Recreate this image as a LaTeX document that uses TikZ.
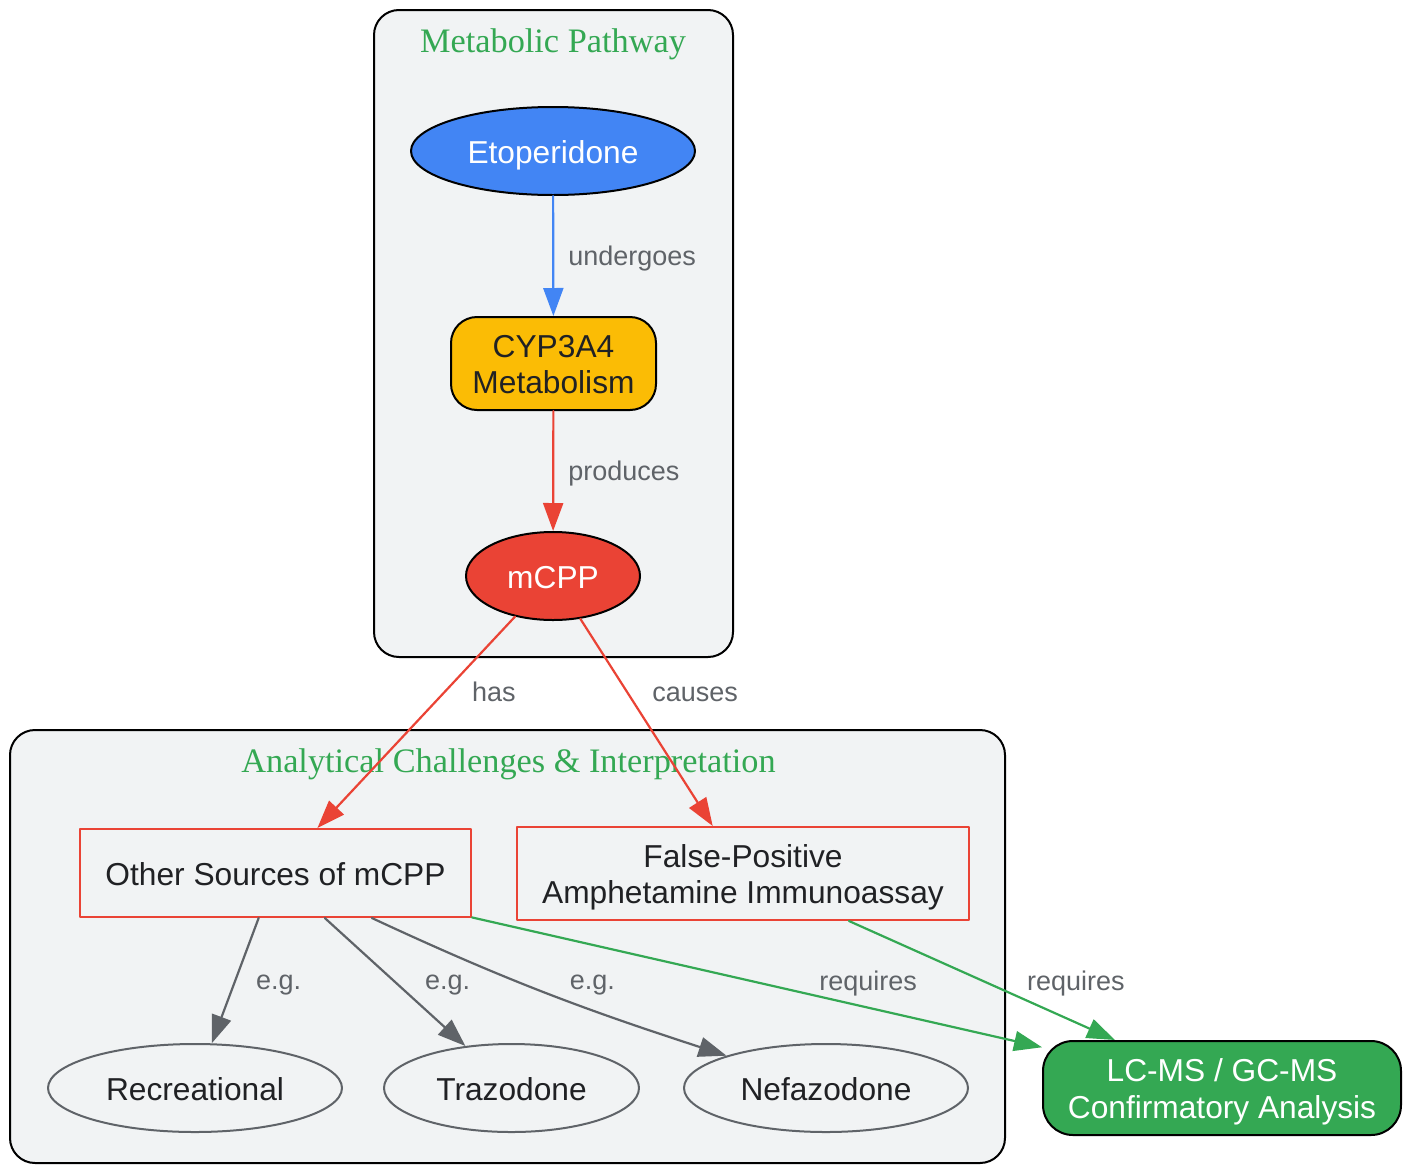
\documentclass[tikz,border=0pt]{standalone}
\usepackage{fontspec}
\setmainfont{Liberation Sans}
\newfontfamily\clusterfont{Liberation Serif}
\usetikzlibrary{arrows.meta,shapes.geometric}
\definecolor{gblue}{HTML}{4285F4}
\definecolor{gyellow}{HTML}{FBBC05}
\definecolor{gred}{HTML}{EA4335}
\definecolor{ggreen}{HTML}{34A853}
\definecolor{ink}{HTML}{202124}
\definecolor{slate}{HTML}{5F6368}
\definecolor{panel}{HTML}{F1F3F4}
\begin{document}
\begin{tikzpicture}[x=1pt, y=-1pt, >={Triangle[length=28pt, width=20pt]}, line cap=round, line join=round]
	\tikzset{
		node_base/.style={draw=black, line width=2pt, inner sep=0pt, align=center, text=ink,
			text height=30pt, text depth=6pt, font=\fontsize{31.7}{36.5}\selectfont},
		two_lines/.style={text height=66.5pt}, % hai dòng chữ
		drug_node/.style={node_base, ellipse, minimum height=88pt}, % thuốc / chất chuyển hoá
		enzyme_node/.style={node_base, two_lines, rounded corners=26pt, minimum height=93pt},
		issue_node/.style={node_base, draw=gred, fill=panel, minimum height=88pt},
		example_node/.style={node_base, ellipse, draw=slate, fill=panel, minimum height=88pt},
		cluster_box/.style={draw=black, line width=2pt, fill=panel, rounded corners=25pt},
		cluster_title/.style={anchor=base, text=ggreen, inner sep=0pt, font=\clusterfont\fontsize{34.3}{40}\selectfont},
		link/.style={->, line width=2.2pt},
		link_label/.style={text=slate, inner sep=0pt, font=\fontsize{27}{32}\selectfont}
	}
	\useasboundingbox (0,0) rectangle (1410,1165);
	% hai cụm
	\draw[cluster_box] (374,10) rectangle (733,657);
	\node[cluster_title] (title_path) at (553,52) {Metabolic Pathway};
	\draw[cluster_box] (10,730) rectangle (1005,1163);
	\node[cluster_title] (title_anal) at (508.5,772) {Analytical Challenges \& Interpretation};

	\node[drug_node, fill=gblue, text=white, minimum width=284pt] (etop) at (553,151) {Etoperidone};
	\node[enzyme_node, fill=gyellow, minimum width=205pt] (cyp) at (553.5,363.5) {CYP3A4\\Metabolism};
	\node[drug_node, fill=gred, text=white, minimum width=174pt] (mcpp) at (553,576) {mCPP};

	\node[issue_node, minimum width=391pt] (other) at (275.5,873) {Other Sources of mCPP};
	\node[issue_node, two_lines, minimum width=452pt, minimum height=93pt] (falsepos) at (743,873.5) {False-Positive\\Amphetamine Immunoassay};
	\foreach \name/\x/\w/\txt in {recre/195/294/Recreational, trazo/511.5/255/Trazodone, nefa/826/284/Nefazodone} {
		\node[example_node, minimum width=\w pt] (\name) at (\x,1088) {\txt};
	}
	\node[enzyme_node, fill=ggreen, text=white, rounded corners=30pt, minimum width=358pt, minimum height=94pt] (lcms) at (1222,1088) {LC-MS / GC-MS\\Confirmatory Analysis};

	% cạnh
	\draw[link, gblue] (etop) -- node[link_label, pos=0.5, anchor=west, xshift=14pt, yshift=-3pt] (lbl_under) {undergoes} (cyp);
	\draw[link, gred] (cyp) -- node[link_label, pos=0.5, anchor=west, xshift=14pt, yshift=-3pt] (lbl_prod) {produces} (mcpp);
	\draw[link, gred] (mcpp) -- node[link_label, pos=0.354, anchor=west, xshift=26pt] (lbl_has) {has} (other);
	\draw[link, gred] (mcpp) -- node[link_label, pos=0.354, anchor=west, xshift=24pt, yshift=-2pt] (lbl_causes) {causes} (falsepos);
	\foreach \target/\p/\dx in {recre/0.503/20, trazo/0.493/30} {
		\draw[link, slate] (other) -- node[link_label, pos=\p, anchor=west, xshift=\dx pt, yshift=-4pt] (eg_\target) {e.g.} (\target);
	}
	\draw[link, slate] (other) to[out=-25, in=162] node[link_label, pos=0.5, anchor=west, xshift=22pt, yshift=8pt] (eg_nefa) {e.g.} (nefa);
	\draw[link, ggreen] (other) -- node[link_label, pos=0.695, yshift=24pt] (lbl_req1) {requires} (lcms);
	\draw[link, ggreen] (falsepos) -- node[link_label, pos=0.504, anchor=west, xshift=43pt, yshift=-3pt] (lbl_req2) {requires} (lcms);
\end{tikzpicture}
\end{document}
